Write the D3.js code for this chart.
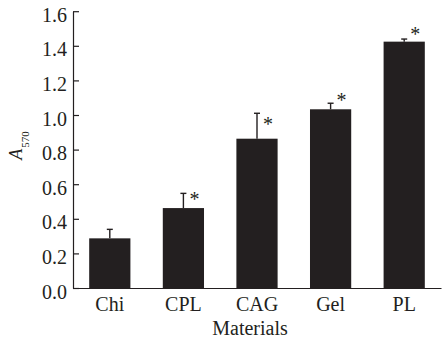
<!DOCTYPE html>
<html>
<head>
<meta charset="utf-8">
<script src="https://cdn.jsdelivr.net/npm/d3@7"></script>
<style>
  html, body { margin: 0; padding: 0; background: #fff; }
  svg { display: block; }
  text { font-family: "Liberation Serif", "Times New Roman", serif; fill: #231f20; }
</style>
</head>
<body>
<div id="chart"></div>
<script>
const categories = ["Chi", "CPL", "CAG", "Gel", "PL"];
const means = [0.287, 0.462, 0.863, 1.033, 1.424];
const errors = [0.052, 0.085, 0.147, 0.035, 0.015];
const significant = [false, true, true, true, true];
const markerLevels = [null, 0.549, 0.983, 1.121, 1.503];
const yTicks = [0, 0.2, 0.4, 0.6, 0.8, 1.0, 1.2, 1.4, 1.6];

const W = 445, H = 341;
const margin = { left: 73, right: 4, top: 11.2, bottom: 53 };
const ink = "#231f20";

const svg = d3.select("#chart").append("svg").attr("width", W).attr("height", H);

const x = d3.scaleBand().domain(categories)
  .range([margin.left, W - margin.right])
  .paddingInner(0.44).paddingOuter(0.22);
const y = d3.scaleLinear().domain([0, 1.6]).range([H - margin.bottom, margin.top]);

// bars
svg.append("g").selectAll("rect").data(categories).join("rect")
  .attr("x", d => x(d))
  .attr("y", (d, i) => y(means[i]))
  .attr("width", x.bandwidth())
  .attr("height", (d, i) => y(0) - y(means[i]))
  .attr("fill", ink);

// error bars (upper only)
const eb = svg.append("g").attr("stroke", ink).attr("stroke-width", 1.4);
categories.forEach((c, i) => {
  const cx = x(c) + x.bandwidth() / 2;
  eb.append("line").attr("x1", cx).attr("x2", cx)
    .attr("y1", y(means[i])).attr("y2", y(means[i] + errors[i]));
  eb.append("line").attr("x1", cx - 3).attr("x2", cx + 3)
    .attr("y1", y(means[i] + errors[i])).attr("y2", y(means[i] + errors[i]));
});

// significance markers
svg.append("g").selectAll("text").data(categories.filter((c, i) => significant[i])).join("text")
  .attr("x", d => x(d) + x.bandwidth() / 2 + 11)
  .attr("y", d => y(markerLevels[categories.indexOf(d)]) + 13)
  .attr("text-anchor", "middle")
  .attr("font-size", 20)
  .text("*");

// y axis
const yAxis = svg.append("g").attr("transform", `translate(${margin.left},0)`)
  .call(d3.axisLeft(y).tickValues(yTicks).tickFormat(d3.format(".1f"))
    .tickSizeInner(-6).tickSizeOuter(0).tickPadding(6));
yAxis.select(".domain").attr("stroke", ink).attr("stroke-width", 1.2);
yAxis.selectAll(".tick line").attr("stroke", ink).attr("stroke-width", 1.2);
yAxis.selectAll(".tick text").attr("font-size", 20).attr("dy", "0.5em")
  .attr("fill", ink).style("font-family", "Liberation Serif, serif");

// x axis
const xAxis = svg.append("g").attr("transform", `translate(0,${y(0)})`)
  .call(d3.axisBottom(x).tickSize(0).tickPadding(9));
xAxis.select(".domain").attr("stroke", ink).attr("stroke-width", 1.2);
xAxis.selectAll(".tick text").attr("font-size", 20)
  .attr("fill", ink).style("font-family", "Liberation Serif, serif");

// axis titles
svg.append("text").attr("x", 250).attr("y", 335)
  .attr("text-anchor", "middle").attr("font-size", 20).text("Materials");

const yl = svg.append("text").attr("transform", "translate(22,145.5) rotate(-90)")
  .attr("text-anchor", "middle").attr("font-size", 18);
yl.append("tspan").attr("font-style", "italic").text("A");
yl.append("tspan").attr("font-size", 11).attr("dy", 7).attr("dx", 1).text("570");
</script>
</body>
</html>
